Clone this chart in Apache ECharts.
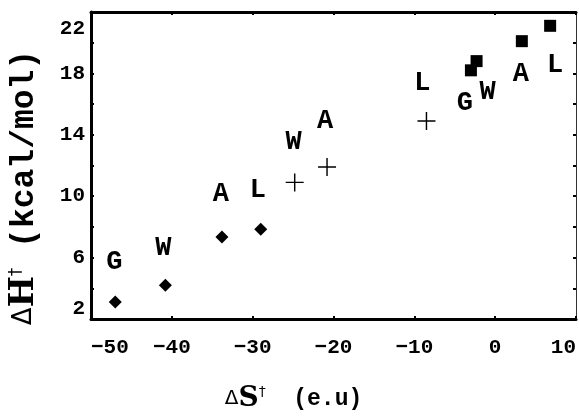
<!DOCTYPE html>
<html>
<head>
<meta charset="utf-8">
<script src="https://cdn.jsdelivr.net/npm/echarts@6/dist/echarts.min.js"></script>
<style>
  html, body { margin: 0; padding: 0; background: #fff; }
  #chart { width: 579px; height: 418px; }
</style>
</head>
<body>
<div id="chart"></div>
<script>
// diamonds
const diamondLetters = ['G', 'W', 'A', 'L']
const diamondS = [-47.0, -40.8, -33.8, -29.0]
const diamondH = [3.1, 4.2, 7.35, 7.85]
// crosses
const plusLetters = ['W', 'A', 'L']
const plusS = [-24.8, -20.8, -8.5]
const plusH = [10.9, 11.9, 14.9]
// squares
const squareLetters = ['G', 'W', 'A', 'L']
const squareS = [-3.0, -2.3, 3.3, 6.8]
const squareH = [18.2, 18.8, 20.1, 21.1]
// axes
const sTicks = [-50, -40, -30, -20, -10, 0, 10]
const hTicks = [2, 6, 10, 14, 18, 22]

const mono = "'Courier New', 'Liberation Mono', monospace"

// where each letter sits relative to its mark (px)
const labelShift = {
  diamond: { G: [-1, -40], W: [-2, -37], A: [-1, -43], L: [-3, -39] },
  plus: { W: [-1, -40], A: [-2, -46], L: [-4, -38] },
  square: { G: [-6, 33], W: [11, 31], A: [-1, 33], L: [5, 39] }
}

function points(letters, xs, ys, kind) {
  return letters.map((l, i) => ({
    name: l,
    value: [xs[i], ys[i]],
    label: { offset: labelShift[kind][l] }
  }))
}

const letterLabel = {
  show: true,
  position: 'inside',
  formatter: p => p.name,
  color: '#000',
  opacity: 1,
  fontFamily: mono,
  fontWeight: 'bold',
  fontSize: 27
}

const frameAxis = {
  type: 'value',
  axisLine: { onZero: false, lineStyle: { color: '#000', width: 3 } },
  axisTick: { inside: true, length: 3, lineStyle: { color: '#000', width: 2 } },
  splitLine: { show: false }
}

const chart = echarts.init(document.getElementById('chart'))

chart.setOption({
  animation: false,
  grid: { left: 88, right: 1, top: 12, bottom: 90 },
  xAxis: [{
    ...frameAxis,
    min: sTicks[0],
    max: sTicks[sTicks.length - 1],
    interval: 10,
    position: 'bottom',
    axisLabel: {
      margin: 18,
      color: '#000',
      fontFamily: mono,
      fontWeight: 'bold',
      fontSize: 21,
      alignMinLabel: 'left',
      alignMaxLabel: 'right',
      formatter: v => String(v).replace('-', '\u2212')
    },
    name: '{d|\u0394}{s|S}{t|\u2020}{u|  (e.u)}',
    nameLocation: 'middle',
    nameGap: 66,
    nameTextStyle: {
      padding: [0, 80, 0, 0],
      rich: {
        d: { fontFamily: 'DejaVu Sans', fontSize: 20, color: '#000' },
        s: { fontFamily: 'DejaVu Serif', fontWeight: 'bold', fontSize: 28, color: '#000' },
        t: { fontFamily: 'DejaVu Sans', fontSize: 14, color: '#000', verticalAlign: 'top' },
        u: { fontFamily: mono, fontWeight: 'bold', fontSize: 23, color: '#000' }
      }
    }
  }, {
    ...frameAxis,
    min: sTicks[0],
    max: sTicks[sTicks.length - 1],
    interval: 10,
    position: 'top',
    axisLabel: { show: false }
  }],
  yAxis: [{
    ...frameAxis,
    min: 2,
    max: 22,
    interval: 2,
    position: 'left',
    axisLabel: {
      margin: 6,
      color: '#000',
      fontFamily: mono,
      fontWeight: 'bold',
      fontSize: 21,
      padding: [6, 0, 0, 0],
      verticalAlignMinLabel: 'bottom',
      verticalAlignMaxLabel: 'top',
      formatter: v => (hTicks.indexOf(v) >= 0 ? String(v) : '')
    },
    name: '{d|\u0394}{h|H}{t|\u2020}{u| (kcal/mol)}',
    nameLocation: 'middle',
    nameGap: 50,
    nameTextStyle: {
      padding: [0, 44, 0, 0],
      rich: {
        d: { fontFamily: 'DejaVu Sans', fontSize: 26, color: '#000' },
        h: { fontFamily: 'DejaVu Serif', fontWeight: 'bold', fontSize: 33, color: '#000' },
        t: { fontFamily: 'DejaVu Sans', fontSize: 17, color: '#000', verticalAlign: 'top' },
        u: { fontFamily: mono, fontWeight: 'bold', fontSize: 33, color: '#000' }
      }
    }
  }, {
    ...frameAxis,
    min: 2,
    max: 22,
    interval: 2,
    position: 'right',
    axisLine: { onZero: false, lineStyle: { color: '#333', width: 1 } },
    axisLabel: { show: false }
  }],
  series: [{
    type: 'scatter',
    symbol: 'diamond',
    symbolSize: 13,
    itemStyle: { color: '#000', opacity: 1 },
    label: letterLabel,
    data: points(diamondLetters, diamondS, diamondH, 'diamond')
  }, {
    type: 'scatter',
    symbol: 'path://M0,46H100V54H0Z M46,0H54V100H46Z',
    symbolSize: 18,
    itemStyle: { color: '#000', opacity: 1 },
    label: letterLabel,
    data: points(plusLetters, plusS, plusH, 'plus')
  }, {
    type: 'scatter',
    symbol: 'rect',
    symbolSize: 12,
    itemStyle: { color: '#000', opacity: 1 },
    label: letterLabel,
    data: points(squareLetters, squareS, squareH, 'square')
  }]
})
</script>
</body>
</html>
